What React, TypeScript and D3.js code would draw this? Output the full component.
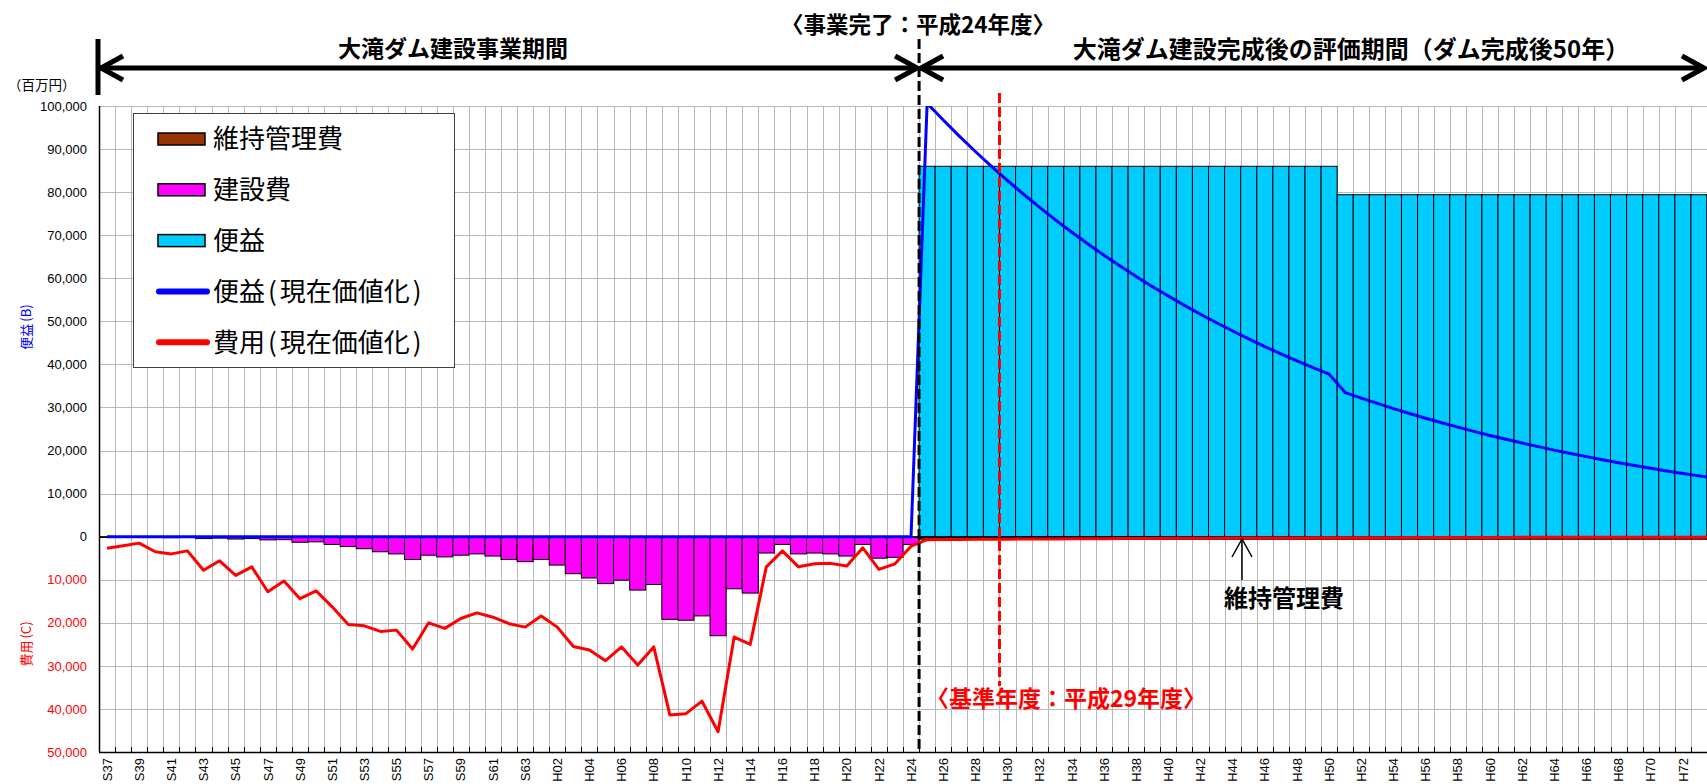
import React from "react";
import * as d3 from "d3";

// ---------- data ----------
const showaYears = d3.range(37, 64).map((n) => "S" + n);
const heiseiYears = d3.range(1, 75).map((n) => "H" + (n < 10 ? "0" + n : "" + n));
const categories = [...showaYears, ...heiseiYears]; // S37 .. H74 (H74 runs past the right edge)

// construction cost (nominal, million yen) S37..H24
const constructionCost = [
  -150, -120, -90, -200, -230, -200, -450, -330, -550, -450,
  -750, -700, -1300, -1200, -1800, -2300, -2800, -3500, -4000, -5300,
  -4300, -4700, -4300, -4000, -4500, -5300, -5800, -5300, -6600, -8600,
  -9600, -10900, -10100, -12400, -11100, -19200, -19400, -18400, -23000, -12100,
  -13100, -3800, -1800, -4000, -3800, -4000, -4500, -1800, -5000, -4800,
  -1800,
];

// maintenance cost H25..H74
const maintenanceCost = [
  -600, -600, -600, -600, -600, -600, -600, -600, -600, -600,
  -600, -600, -600, -600, -600, -600, -600, -600, -600, -600,
  -600, -600, -600, -600, -600, -600, -600, -600, -600, -600,
  -600, -600, -600, -600, -600, -600, -600, -600, -600, -600,
  -600, -600, -600, -600, -600, -600, -600, -600, -600, -600,
];

// benefit H25..H74
const benefit = [
  86000, 86000, 86000, 86000, 86000, 86000, 86000, 86000, 86000, 86000,
  86000, 86000, 86000, 86000, 86000, 86000, 86000, 86000, 86000, 86000,
  86000, 86000, 86000, 86000, 86000, 86000,
  79400, 79400, 79400, 79400, 79400, 79400, 79400, 79400, 79400, 79400,
  79400, 79400, 79400, 79400, 79400, 79400, 79400, 79400, 79400, 79400,
  79400, 79400, 79400, 79400,
];

// benefit, present value S37..H74
const benefitPV = [
  0, 0, 0, 0, 0, 0, 0, 0, 0, 0,
  0, 0, 0, 0, 0, 0, 0, 0, 0, 0,
  0, 0, 0, 0, 0, 0, 0, 0, 0, 0,
  0, 0, 0, 0, 0, 0, 0, 0, 0, 0,
  0, 0, 0, 0, 0, 0, 0, 0, 0, 0,
  0,
  100608, 96738, 93018, 89440, 86000, 82692, 79512, 76454, 73513, 70686,
  67967, 65353, 62839, 60422, 58099, 55864, 53715, 51649, 49663, 47752,
  45916, 44150, 42452, 40819, 39249, 37740,
  33461, 32174, 30937, 29747, 28603, 27502, 26445, 25428, 24450, 23509,
  22605, 21736, 20900, 20096, 19323, 18580, 17865, 17178, 16517, 15882,
  15271, 14684, 14119, 13594,
];

// cost, present value S37..H74
const costPV = [
  -2700, -2100, -1500, -3500, -4000, -3300, -7800, -5600, -9000, -7000,
  -12800, -10300, -14400, -12600, -16300, -20400, -20700, -22000, -21700, -26100,
  -20000, -21300, -19000, -17700, -18700, -20200, -21000, -18400, -21000, -25500,
  -26300, -28800, -25600, -29800, -25600, -41400, -41100, -38200, -45300, -23300,
  -25000, -7000, -3300, -7000, -6300, -6200, -6800, -2600, -7600, -6300,
  -2200,
  -702, -675, -649, -624, -600, -577, -555, -533, -513, -493,
  -474, -456, -438, -422, -405, -390, -375, -360, -346, -333,
  -320, -308, -296, -285, -274, -263, -253, -243, -234, -225,
  -216, -208, -200, -192, -185, -178, -171, -164, -158, -152,
  -146, -141, -135, -130, -125, -120, -116, -111, -107, -103,
];

const yTicks = [100000, 90000, 80000, 70000, 60000, 50000, 40000, 30000, 20000, 10000, 0, -10000, -20000, -30000, -40000, -50000];

const legendItems = [
  { head: "維持管理費", tail: "", kind: "rect", color: "#993300" },
  { head: "建設費", tail: "", kind: "rect", color: "#FF00FF" },
  { head: "便益", tail: "", kind: "rect", color: "#00CCFF" },
  { head: "便益", tail: "現在価値化", kind: "line", color: "#0000FF" },
  { head: "費用", tail: "現在価値化", kind: "line", color: "#FF0000" },
];

// ---------- layout ----------
const W = 1707;
const H = 784;
const plotLeft = 99;
const catWidth = 16.08;
const plotTop = 106;
const plotBottom = 752;

const JP = "'Noto Sans CJK JP', 'Noto Sans', sans-serif";
const NUM = "'Liberation Sans', Arial, sans-serif";

export default function App() {
  const plotRight = plotLeft + catWidth * categories.length;
  const x = d3.scaleBand<string>().domain(categories).range([plotLeft, plotRight]).padding(0);
  const y = d3.scaleLinear().domain([-50000, 100000]).range([plotBottom, plotTop]);
  const bw = x.bandwidth();
  const cx = (c: string) => (x(c) as number) + bw / 2;

  const constructionCats = categories.slice(0, constructionCost.length);
  const afterCats = categories.slice(constructionCost.length);

  const line = d3
    .line<number>()
    .x((_, i) => cx(categories[i]))
    .y((d) => y(d));

  const completionX = x("H25") as number; // boundary H24/H25
  const baseX = x("H30") as number; // boundary H29/H30

  const boundaries = categories.slice(1).map((c) => x(c) as number);
  const zeroY = y(0);

  const arrowY = 68;
  const head = (tipX: number, dir: number) =>
    `M${tipX - dir * 22},${arrowY - 12} L${tipX},${arrowY} L${tipX - dir * 22},${arrowY + 12}`;

  return (
    <svg
      width={W}
      height={H}
      viewBox={`0 0 ${W} ${H}`}
      style={{ position: "absolute", left: 0, top: 0, background: "#fff" }}
    >
      <defs>
        <clipPath id="plotClip">
          <rect x={plotLeft} y={plotTop} width={W - plotLeft} height={plotBottom - plotTop} />
        </clipPath>
      </defs>
      <rect x={0} y={0} width={W} height={H} fill="#fff" />

      {/* gridlines */}
      <g stroke="#b8b8b8" strokeWidth={1}>
        {yTicks.map((t) => (
          <line key={"h" + t} x1={plotLeft} x2={W} y1={Math.round(y(t)) + 0.5} y2={Math.round(y(t)) + 0.5} />
        ))}
        {boundaries
          .filter((bx) => bx < W)
          .map((bx, i) => (
            <line key={"v" + i} x1={Math.round(bx) + 0.5} x2={Math.round(bx) + 0.5} y1={plotTop} y2={plotBottom} />
          ))}
      </g>

      {/* bars */}
      <g clipPath="url(#plotClip)">
        {constructionCats.map((c, i) => (
          <rect
            key={"c" + c}
            x={x(c) as number}
            y={y(0)}
            width={bw}
            height={y(constructionCost[i]) - y(0)}
            fill="#FF00FF"
            stroke="#000"
            strokeWidth={1}
          />
        ))}
        {afterCats.map((c, i) => (
          <rect
            key={"m" + c}
            x={x(c) as number}
            y={y(0)}
            width={bw}
            height={y(maintenanceCost[i]) - y(0)}
            fill="#993300"
            stroke="#000"
            strokeWidth={1}
          />
        ))}
        {afterCats.map((c, i) => (
          <rect
            key={"b" + c}
            x={x(c) as number}
            y={y(benefit[i])}
            width={bw}
            height={y(0) - y(benefit[i])}
            fill="#00CCFF"
            stroke="#000"
            strokeWidth={1}
          />
        ))}
      </g>

      {/* axes */}
      <line x1={plotLeft} x2={W} y1={Math.round(zeroY) + 0.5} y2={Math.round(zeroY) + 0.5} stroke="#000" strokeWidth={1} />
      <line x1={plotLeft} x2={W} y1={plotBottom + 0.5} y2={plotBottom + 0.5} stroke="#000" strokeWidth={1.5} />
      <line x1={plotLeft + 0.5} x2={plotLeft + 0.5} y1={plotTop} y2={plotBottom} stroke="#000" strokeWidth={1.5} />
      <g stroke="#000" strokeWidth={1}>
        {boundaries
          .filter((bx) => bx < W)
          .map((bx, i) => (
            <line key={"t" + i} x1={Math.round(bx) + 0.5} x2={Math.round(bx) + 0.5} y1={plotBottom - 5} y2={plotBottom} />
          ))}
      </g>

      {/* PV lines */}
      <g clipPath="url(#plotClip)" fill="none" strokeWidth={3} strokeLinejoin="round">
        <path d={line(costPV) || ""} stroke="#FF0000" />
        <path d={line(benefitPV) || ""} stroke="#0000FF" />
      </g>

      {/* y tick labels */}
      <g fontFamily={NUM} fontSize={13} textAnchor="end">
        {yTicks.map((t) => (
          <text key={"yl" + t} x={87} y={y(t)} dy="0.36em" fill={t < 0 ? "#FF0000" : "#000"}>
            {d3.format(",")(Math.abs(t))}
          </text>
        ))}
      </g>
      <text x={8} y={85} dy="0.35em" fontFamily={JP} fontSize={13.5} fill="#000">
        （百万円）
      </text>
      <text
        transform={`translate(26,${327}) rotate(-90)`}
        textAnchor="middle"
        dy="0.35em"
        fontFamily={JP}
        fontSize={13}
        fill="#0000FF"
      >
        便益<tspan dx={2}>(B)</tspan>
      </text>
      <text
        transform={`translate(26,${644}) rotate(-90)`}
        textAnchor="middle"
        dy="0.35em"
        fontFamily={JP}
        fontSize={13}
        fill="#FF0000"
      >
        費用<tspan dx={2}>(C)</tspan>
      </text>

      {/* x tick labels */}
      <g fontFamily={NUM} fontSize={13} textAnchor="end">
        {categories.map((c, i) =>
          i % 2 === 0 && cx(c) < W ? (
            <text key={"xl" + c} transform={`translate(${cx(c)},${758}) rotate(-90)`} dy="0.36em" fill="#000">
              {c}
            </text>
          ) : null
        )}
      </g>

      {/* dashed marker lines */}
      <line x1={completionX} x2={completionX} y1={39} y2={plotBottom} stroke="#000" strokeWidth={3} strokeDasharray="10,4" />
      <line x1={baseX} x2={baseX} y1={93} y2={686} stroke="#FF0000" strokeWidth={3} strokeDasharray="10,4" />

      {/* period arrows */}
      <g stroke="#000" strokeWidth={5} fill="none" strokeLinecap="butt" strokeLinejoin="miter">
        <line x1={98} x2={98} y1={39} y2={95} />
        <line x1={100} x2={completionX - 2} y1={arrowY} y2={arrowY} />
        <path d={head(101, -1)} />
        <path d={head(completionX - 2, 1)} />
        <path d={head(completionX + 2, -1)} />
        <line x1={completionX + 2} x2={1704} y1={arrowY} y2={arrowY} />
        <path d={head(1704, 1)} />
      </g>

      <g fontFamily={JP} fontWeight={700} fill="#000" textAnchor="middle">
        <text x={453} y={57} fontSize={23}>大滝ダム建設事業期間</text>
        <text x={918} y={33} fontSize={22.5}>〈事業完了：平成24年度〉</text>
        <text x={1351} y={58} fontSize={24}>大滝ダム建設完成後の評価期間（ダム完成後50年）</text>
        <text x={1066} y={707} fontSize={23} fill="#FF0000">〈基準年度：平成29年度〉</text>
        <text x={1284} y={607} fontSize={24}>維持管理費</text>
      </g>

      {/* maintenance annotation arrow */}
      <g stroke="#000" strokeWidth={1.5} fill="none">
        <line x1={1242} x2={1242} y1={539} y2={580} />
        <path d="M1232,557 L1242,539 L1252,557" />
      </g>

      {/* legend */}
      <g>
        <rect x={133.5} y={113.5} width={321} height={254} fill="#fff" stroke="#404040" strokeWidth={1} />
        {legendItems.map((it, i) => {
          const cy = 139 + i * 50.8;
          return (
            <g key={it.head + i}>
              {it.kind === "rect" ? (
                <rect x={158} y={cy - 6} width={47} height={12} fill={it.color} stroke="#000" strokeWidth={1.5} />
              ) : (
                <line x1={159} x2={207} y1={cy} y2={cy} stroke={it.color} strokeWidth={6} strokeLinecap="round" />
              )}
              <text x={213} y={cy} dy="0.36em" fontFamily={JP} fontSize={26} fill="#000">
                {it.head}
                {it.tail ? (
                  <>
                    <tspan dx={3}>(</tspan>
                    <tspan dx={3}>{it.tail}</tspan>
                    <tspan dx={3}>)</tspan>
                  </>
                ) : null}
              </text>
            </g>
          );
        })}
      </g>
    </svg>
  );
}
